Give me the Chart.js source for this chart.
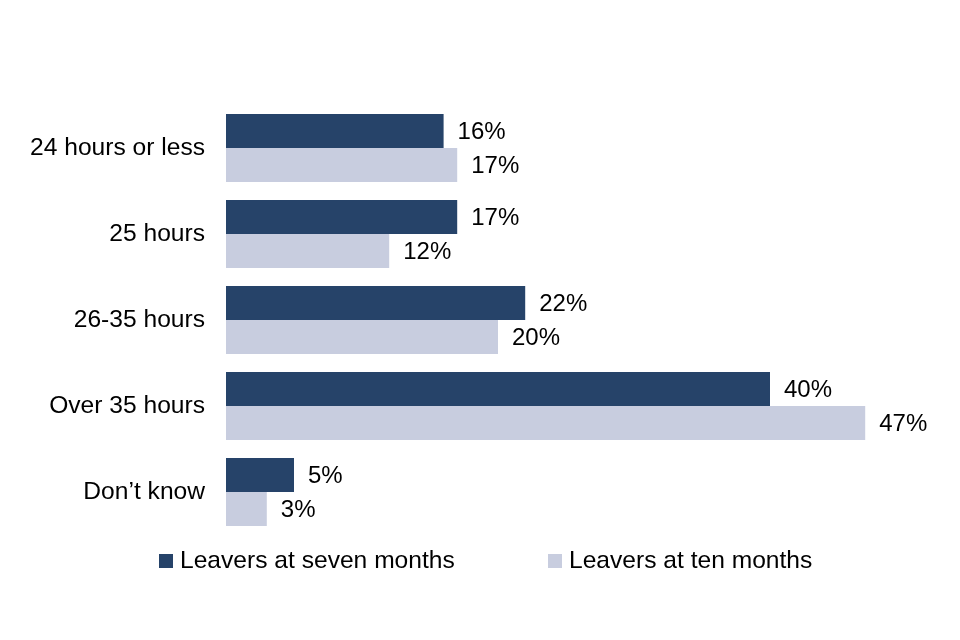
<!DOCTYPE html>
<html>
<head>
<meta charset="utf-8">
<script src="https://cdn.jsdelivr.net/npm/chart.js@4/dist/chart.umd.min.js"></script>
<style>
html,body{margin:0;padding:0;background:#fff;}
#wrap{width:960px;height:640px;position:relative;}
</style>
</head>
<body>
<div id="wrap"><canvas id="c" width="960" height="640"></canvas></div>
<script>
const categories = ["24 hours or less", "25 hours", "26-35 hours", "Over 35 hours", "Don\u2019t know"];
const seriesNames = ["Leavers at seven months", "Leavers at ten months"];
const sevenMonths = [16, 17, 22, 40, 5];
const tenMonths = [17, 12, 20, 47, 3];

const FONT = "'Liberation Sans', Arial, sans-serif";
const DARK = "#264369";
const LIGHT = "#C8CDDF";

const valueLabels = {
  id: "valueLabels",
  afterDatasetsDraw(chart) {
    const ctx = chart.ctx;
    ctx.save();
    ctx.font = "24px " + FONT;
    ctx.fillStyle = "#000";
    ctx.textAlign = "left";
    ctx.textBaseline = "middle";
    chart.data.datasets.forEach((ds, di) => {
      const meta = chart.getDatasetMeta(di);
      meta.data.forEach((bar, i) => {
        ctx.fillText(ds.data[i] + "%", bar.x + 14, bar.y + 1);
      });
    });
    ctx.restore();
  }
};

const customLegend = {
  id: "customLegend",
  afterDraw(chart) {
    const ctx = chart.ctx;
    ctx.save();
    ctx.font = "24.6px " + FONT;
    ctx.textAlign = "left";
    ctx.textBaseline = "middle";
    const y = 561;
    const xs = [159, 548];
    chart.data.datasets.forEach((ds, i) => {
      ctx.fillStyle = ds.backgroundColor;
      ctx.fillRect(xs[i], y - 7, 14, 14);
      ctx.fillStyle = "#000";
      ctx.fillText(ds.label, xs[i] + 21, y);
    });
    ctx.restore();
  }
};

new Chart(document.getElementById("c"), {
  type: "bar",
  data: {
    labels: categories,
    datasets: [
      { label: seriesNames[0], data: sevenMonths, backgroundColor: DARK },
      { label: seriesNames[1], data: tenMonths, backgroundColor: LIGHT }
    ]
  },
  options: {
    indexAxis: "y",
    responsive: false,
    animation: false,
    devicePixelRatio: 1,
    layout: { padding: { top: 105, bottom: 105, left: 0, right: 54 } },
    datasets: { bar: { categoryPercentage: 0.79, barPercentage: 1.0 } },
    plugins: {
      legend: { display: false },
      tooltip: { enabled: false }
    },
    scales: {
      x: {
        display: false,
        min: 0,
        max: 50
      },
      y: {
        grid: { display: false, drawTicks: false },
        border: { display: false },
        ticks: { color: "#000", font: { size: 24.6, family: FONT }, padding: 21 },
        afterFit(scale) { scale.width = 226; }
      }
    }
  },
  plugins: [valueLabels, customLegend]
});
</script>
</body>
</html>
